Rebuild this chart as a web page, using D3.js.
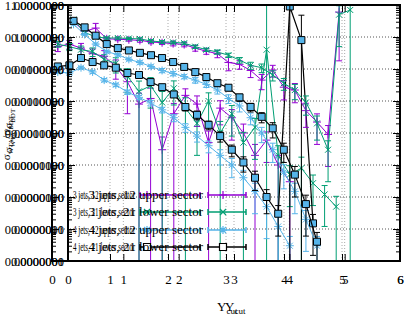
<!DOCTYPE html>
<html>
<head>
<meta charset="utf-8">
<script src="https://cdn.jsdelivr.net/npm/d3@7"></script>
<style>
  body { margin: 0; background: #fff; }
  svg text { font-family: "Liberation Serif", "DejaVu Serif", serif; }
</style>
</head>
<body>
<svg id="chart" width="407" height="315"></svg>
<script>
// Y_cut points, the same grid in both overlaid plots
const yCut = [0.1, 0.3, 0.5, 0.7, 0.9, 1.1, 1.3, 1.5, 1.7, 1.9, 2.1, 2.3, 2.5,
              2.7, 2.9, 3.1, 3.3, 3.5, 3.7, 3.9, 4.1, 4.3, 4.5, 4.7, 4.9, 5.1];
const xTicks = [0, 1, 2, 3, 4, 5, 6];
const yTicks = [1e-8, 1e-7, 1e-6, 1e-5, 1e-4, 1e-3, 1e-2, 1e-1, 1];
const seriesNames = ["3 jets, 12 upper sector", "3 jets, 21 lower sector",
                     "4 jets, 12 upper sector", "4 jets, 21 lower sector"];

// first plot (left frame), values and relative errors
const purpleA    = [0.05, 0.06, 0.045, 0.03, 0.025, 0.012, 0.004, 0.0008, 0.0012, 0.00003, 0.0004, 0.0015, 0.0008,
                    0.00005, 0.0006, 0.0003, 0.0001, 0.00002, 0.00006, 0.00001, 0.000003, null, null, null, null, null];
const purpleAErr = [0.3, 0.3, 0.4, 0.4, 0.5, 0.6, 0.9, 1.2, 1.1, 1.5, 1.1, 0.6, 0.8,
                    1.3, 0.7, 0.8, 0.9, 1.2, 0.8, 1.0, 1.0, null, null, null, null, null];
const greenA     = [0.06, 0.05, 0.04, 0.035, 0.02, 0.015, 0.006, 0.002, 0.003, 0.0009, 0.0025, 0.0006, 0.0002,
                    0.001, 0.0001, 0.0004, 0.00005, 0.00015, 0.04, 0.00002, 0.000005, 0.000008, 0.0000027, 0.0000012, 0.0000005, null];
const greenAErr  = [0.2, 0.25, 0.3, 0.3, 0.4, 0.5, 0.7, 1.1, 0.8, 1.2, 0.7, 1.1, 0.9,
                    0.8, 1.3, 0.8, 1.1, 0.9, 30, 1.0, 0.9, 1.2, 0.8, 0.9, 1.1, null];
const blueA      = [0.008, 0.0075, 0.011, 0.0081, 0.0045, 0.0032, 0.0019, 0.0013, 0.00087, 0.00053, 0.0003, 0.00015, 0.00008,
                    0.00004, 0.00002, 0.00001, 0.000004, 0.0000015, 5e-7, 1.2e-7, 3e-8, null, null, null, null, null];
const blueAErr   = [0.08, 0.08, 0.1, 0.1, 0.12, 0.12, 0.15, 0.15, 0.2, 0.2, 0.25, 0.3, 0.35,
                    0.4, 0.5, 0.6, 0.7, 0.8, 0.9, 0.95, 0.95, null, null, null, null, null];
const blackA     = [0.012, 0.013, 0.022, 0.0165, 0.013, 0.011, 0.0075, 0.0065, 0.0039, 0.0027, 0.0016, 0.00065, 0.00037,
                    0.00018, 0.00008, 0.00003, 0.000012, 0.000004, 0.000001, 3e-7, 0.9, 0.08, 1.5e-7, null, null, null];
const blackAErr  = [0.08, 0.08, 0.1, 0.1, 0.1, 0.12, 0.12, 0.15, 0.15, 0.2, 0.2, 0.25, 0.3,
                    0.3, 0.35, 0.4, 0.5, 0.6, 0.7, 0.8, 1.5, 5, 0.9, null, null, null];

// second plot (right frame)
const purpleB    = [0.3, 0.15, 0.19, 0.088, 0.085, 0.082, 0.078, 0.07, 0.066, 0.062, 0.058, 0.045, 0.036,
                    0.03, 0.016, 0.014, 0.009, 0.0045, 0.0093, 0.0027, 0.0022, 0.0005, 0.00022, 0.00009, 0.6, null];
const purpleBErr = [0.1, 0.15, 0.4, 0.1, 0.1, 0.1, 0.12, 0.12, 0.12, 0.15, 0.15, 0.2, 0.2,
                    0.25, 0.45, 0.3, 0.4, 0.5, 0.4, 0.6, 0.6, 0.7, 0.8, 0.9, 0.97, null];
const greenB     = [0.35, 0.14, 0.1, 0.093, 0.093, 0.09, 0.087, 0.075, 0.07, 0.068, 0.064, 0.05, 0.04,
                    0.034, 0.027, 0.019, 0.013, 0.011, 0.0065, 0.0036, 0.0022, 0.0009, 0.0002, 0.00003, 0.5, 0.7];
const greenBErr  = [0.05, 0.08, 0.1, 0.08, 0.08, 0.08, 0.08, 0.1, 0.1, 0.1, 0.1, 0.12, 0.12,
                    0.15, 0.15, 0.2, 0.25, 0.3, 0.35, 0.4, 0.5, 0.6, 0.7, 0.9, 0.9, 1.5];
const blueB      = [0.25, 0.12, 0.06, 0.035, 0.028, 0.02, 0.016, 0.012, 0.009, 0.0072, 0.0058, 0.0045, 0.0033,
                    0.0022, 0.0012, 0.0007, 0.0003, 0.0001, 0.00003, 0.000006, 0.0000015, 2e-7, 3e-8, null, null, null];
const blueBErr   = [0.05, 0.06, 0.08, 0.1, 0.1, 0.1, 0.12, 0.12, 0.15, 0.15, 0.15, 0.2, 0.2,
                    0.25, 0.3, 0.35, 0.4, 0.5, 0.6, 0.7, 0.8, 0.9, 0.95, null, null, null];
const blackB     = [0.32, 0.2, 0.11, 0.06, 0.045, 0.038, 0.032, 0.027, 0.022, 0.0165, 0.0116, 0.008, 0.0056,
                    0.0036, 0.0026, 0.0013, 0.00065, 0.00032, 0.00014, 0.00003, 5e-6, 6e-7, 4e-8, null, null, null];
const blackBErr  = [0.05, 0.05, 0.06, 0.08, 0.08, 0.1, 0.1, 0.1, 0.1, 0.12, 0.12, 0.15, 0.15,
                    0.2, 0.2, 0.25, 0.3, 0.35, 0.5, 0.6, 0.8, 0.9, 0.95, null, null, null];

const colors = ["#9400d3", "#009e73", "#56b4e9", "#000000"];
const markers = [
  "M-4,0H4M0,-4V4",
  "M-3,-3L3,3M-3,3L3,-3",
  "M-4,0H4M0,-4V4M-3,-3L3,3M-3,3L3,-3",
  "M-3.5,-3.5H3.5V3.5H-3.5Z"
];

const svg = d3.select("#chart");
const plotTop = 5, plotBottom = 261, plotRight = 400;
const leftA = 52, leftB = 68;

const y = d3.scaleLog().domain([1e-8, 1]).range([plotBottom, plotTop]);
const xA = d3.scaleLinear().domain([0, 6]).range([leftA, plotRight]);
const xB = d3.scaleLinear().domain([0, 6]).range([leftB, plotRight]);

const defs = svg.append("defs");
defs.append("clipPath").attr("id", "clipA").append("rect")
  .attr("x", leftA).attr("y", plotTop).attr("width", plotRight - leftA).attr("height", plotBottom - plotTop);
defs.append("clipPath").attr("id", "clipB").append("rect")
  .attr("x", leftB).attr("y", plotTop).attr("width", plotRight - leftB).attr("height", plotBottom - plotTop);

// grid
svg.append("g").selectAll("line").data(yTicks).join("line")
  .attr("x1", leftA).attr("x2", plotRight)
  .attr("y1", d => y(d)).attr("y2", d => y(d))
  .attr("stroke", "#555").attr("stroke-dasharray", "1,2");
[xA, xB].forEach(x => {
  svg.append("g").selectAll("line").data(xTicks).join("line")
    .attr("x1", d => x(d)).attr("x2", d => x(d))
    .attr("y1", plotTop).attr("y2", plotBottom)
    .attr("stroke", "#aaa").attr("stroke-dasharray", "1,2");
});

// data
function drawSeries(g, x, ys, errs, k) {
  const pts = yCut.map((d, i) => ({ x: d, y: ys[i], e: errs[i] })).filter(p => p.y != null);
  g.append("g").selectAll("path").data(pts).join("path")
    .attr("d", p => {
      const px = x(p.x);
      const hi = y(p.y * (1 + p.e));
      const lo = p.e >= 1 ? plotBottom + 10 : y(p.y * (1 - p.e));
      return `M${px},${hi}V${lo}M${px - 3},${hi}H${px + 3}M${px - 3},${lo}H${px + 3}`;
    })
    .attr("stroke", colors[k]).attr("fill", "none").attr("stroke-width", 1);
  g.append("path").datum(pts)
    .attr("d", d3.line().x(p => x(p.x)).y(p => y(p.y)))
    .attr("stroke", colors[k]).attr("fill", "none").attr("stroke-width", k === 3 ? 1.2 : 1);
  g.append("g").selectAll("path").data(pts).join("path")
    .attr("transform", p => `translate(${x(p.x)},${y(p.y)})`)
    .attr("d", markers[k])
    .attr("stroke", colors[k]).attr("stroke-width", 1)
    .attr("fill", k === 3 ? "#56b4e9" : "none");
}

const panels = [
  { x: xA, clip: "clipA", series: [[purpleA, purpleAErr], [greenA, greenAErr], [blueA, blueAErr], [blackA, blackAErr]] },
  { x: xB, clip: "clipB", series: [[purpleB, purpleBErr], [greenB, greenBErr], [blueB, blueBErr], [blackB, blackBErr]] }
];
panels.forEach(pn => {
  const g = svg.append("g").attr("clip-path", `url(#${pn.clip})`);
  pn.series.forEach((s, k) => drawSeries(g, pn.x, s[0], s[1], k));
});

// frames, ticks and labels
const minor = y.ticks().filter(d => !yTicks.some(t => Math.abs(t - d) / t < 1e-6));
function clean(g) { g.select(".domain").remove(); }

[leftA, leftB].forEach(l => {
  svg.append("g").attr("transform", `translate(${l},0)`)
    .call(d3.axisLeft(y).tickValues(yTicks).tickSize(-7).tickFormat("")).call(clean);
  svg.append("g").attr("transform", `translate(${l},0)`)
    .call(d3.axisLeft(y).tickValues(minor).tickSize(-4).tickFormat("")).call(clean);
});
svg.append("g").attr("transform", `translate(${plotRight},0)`)
  .call(d3.axisRight(y).tickValues(yTicks).tickSize(-7).tickFormat("")).call(clean);
svg.append("g").attr("transform", `translate(${plotRight},0)`)
  .call(d3.axisRight(y).tickValues(minor).tickSize(-4).tickFormat("")).call(clean);

[".7f", ".8f"].forEach(f => {
  svg.append("g").attr("transform", `translate(${leftB},0)`)
    .call(d3.axisLeft(y).tickValues(yTicks).tickSize(0).tickPadding(4).tickFormat(d3.format(f)))
    .call(clean)
    .attr("font-size", 12.5);
});

[xA, xB].forEach(x => {
  svg.append("g").attr("transform", `translate(0,${plotBottom})`)
    .call(d3.axisBottom(x).tickValues(xTicks).tickSize(-7).tickPadding(14).tickFormat(d3.format("d")))
    .call(clean)
    .attr("font-size", 13);
  svg.append("g").attr("transform", `translate(0,${plotTop})`)
    .call(d3.axisTop(x).tickValues(xTicks).tickSize(-7).tickFormat(""))
    .call(clean);
});

svg.append("g").attr("stroke", "#000").attr("stroke-width", 2).attr("fill", "none")
  .call(g => {
    g.append("path").attr("d", `M${leftA},${plotTop}H${plotRight}V${plotBottom}H${leftA}Z`);
    g.append("path").attr("d", `M${leftB},${plotTop}V${plotBottom}`);
  });

// legend, drawn twice as in the overlaid plots
const legendRows = [195, 212, 230, 247];
const legends = [
  { textEnd: 135, squeeze: 62, x1: 140, x2: 200, mx: 147 },
  { textEnd: 203, squeeze: null, x1: 208, x2: 246, mx: 223 }
];
legends.forEach(lg => {
  seriesNames.forEach((name, k) => {
    const ry = legendRows[k];
    const t = svg.append("text")
      .attr("x", lg.textEnd).attr("y", ry + 4)
      .attr("text-anchor", "end").attr("font-size", 13)
      .text(name);
    if (lg.squeeze) t.attr("textLength", lg.squeeze).attr("lengthAdjust", "spacingAndGlyphs");
    svg.append("path")
      .attr("d", `M${lg.x1},${ry}H${lg.x2}M${lg.x1},${ry - 3}V${ry + 3}M${lg.x2},${ry - 3}V${ry + 3}`)
      .attr("stroke", colors[k]).attr("stroke-width", 1.5).attr("fill", "none");
    svg.append("path")
      .attr("transform", `translate(${lg.mx},${ry})`)
      .attr("d", markers[k])
      .attr("stroke", colors[k]).attr("stroke-width", 1.2)
      .attr("fill", k === 3 ? "#fff" : "none");
  });
});

// axis titles
[[217, 311], [225, 311]].forEach(([tx, ty]) => {
  const t = svg.append("text").attr("x", tx).attr("y", ty).attr("font-size", 13);
  t.append("tspan").text("Y");
  t.append("tspan").attr("dy", 3).attr("font-size", 9).text("cut");
});
[[10, 138], [12, 131]].forEach(([tx, ty]) => {
  const t = svg.append("text")
    .attr("transform", `translate(${tx},${ty}) rotate(-90)`)
    .attr("text-anchor", "middle").attr("font-size", 11);
  t.append("tspan").text("σ");
  t.append("tspan").attr("dy", 3).attr("font-size", 7).text("WTA");
  t.append("tspan").attr("dy", -3).text("/σ");
  t.append("tspan").attr("dy", 3).attr("font-size", 7).text("BDT");
});
</script>
</body>
</html>
